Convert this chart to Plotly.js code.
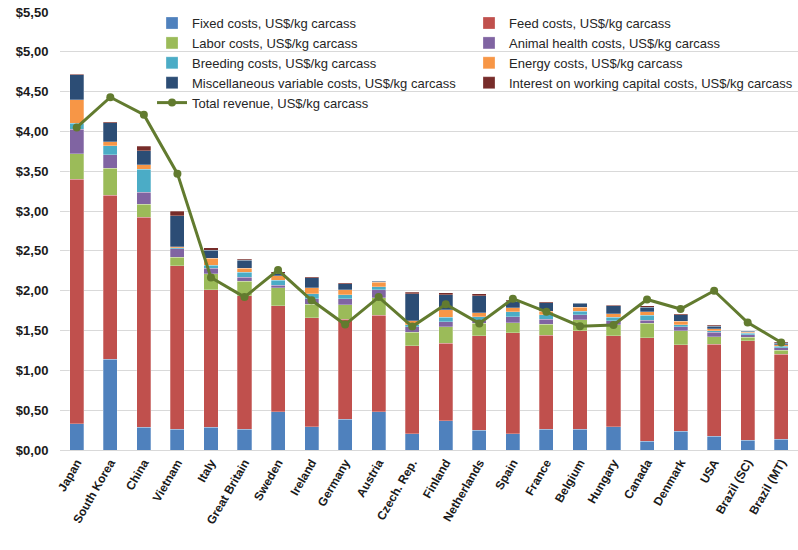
<!DOCTYPE html>
<html>
<head>
<meta charset="utf-8">
<script src="https://cdn.plot.ly/plotly-3.0.1.min.js"></script>
<style>
  html, body { margin: 0; padding: 0; background: #ffffff; }
  #chart { width: 798px; height: 550px; }
</style>
</head>
<body>
<div id="chart"></div>
<script>
// Pig production cost structure and revenue by country, US$/kg carcass
const countries = ['Japan', 'South Korea', 'China', 'Vietnam', 'Italy', 'Great Britain', 'Sweden',
  'Ireland', 'Germany', 'Austria', 'Czech. Rep.', 'Finland', 'Netherlands', 'Spain', 'France',
  'Belgium', 'Hungary', 'Canada', 'Denmark', 'USA', 'Brazil (SC)', 'Brazil (MT)'];

const fixedCosts    = [0.33, 1.14, 0.285, 0.26, 0.285, 0.26, 0.48, 0.29, 0.385, 0.48, 0.205, 0.37, 0.25, 0.205, 0.26, 0.26, 0.29, 0.11, 0.235, 0.17, 0.12, 0.135];
const feedCosts     = [3.07, 2.06, 2.64, 2.055, 1.73, 1.68, 1.33, 1.37, 1.26, 1.21, 1.105, 0.97, 1.185, 1.27, 1.18, 1.235, 1.145, 1.30, 1.085, 1.16, 1.25, 1.065];
const laborCosts    = [0.32, 0.34, 0.16, 0.105, 0.20, 0.18, 0.225, 0.17, 0.18, 0.22, 0.17, 0.21, 0.155, 0.12, 0.14, 0.14, 0.14, 0.18, 0.175, 0.09, 0.045, 0.05];
const healthCosts   = [0.31, 0.17, 0.15, 0.11, 0.07, 0.05, 0.035, 0.07, 0.075, 0.10, 0.07, 0.06, 0.035, 0.08, 0.06, 0.065, 0.05, 0.04, 0.055, 0.06, 0.035, 0.035];
const breedingCosts = [0.07, 0.11, 0.29, 0.01, 0.035, 0.06, 0.06, 0.06, 0.05, 0.04, 0.025, 0.06, 0.05, 0.06, 0.06, 0.04, 0.045, 0.06, 0.025, 0.02, 0.015, 0.02];
const energyCosts   = [0.30, 0.05, 0.06, 0.01, 0.09, 0.05, 0.06, 0.08, 0.06, 0.055, 0.05, 0.09, 0.05, 0.05, 0.04, 0.05, 0.04, 0.045, 0.04, 0.025, 0.015, 0.015];
const miscCosts     = [0.31, 0.24, 0.17, 0.39, 0.10, 0.10, 0.03, 0.12, 0.075, 0.015, 0.34, 0.19, 0.215, 0.08, 0.11, 0.05, 0.10, 0.055, 0.085, 0.03, 0.01, 0.02];
const interestCosts = [0.01, 0.01, 0.06, 0.06, 0.03, 0.015, 0.02, 0.015, 0.015, 0.005, 0.015, 0.025, 0.02, 0.013, 0.01, 0.01, 0.01, 0.02, 0.01, 0.01, 0.01, 0.01];
const totalRevenue  = [4.05, 4.43, 4.21, 3.47, 2.165, 1.92, 2.26, 1.88, 1.575, 1.92, 1.55, 1.83, 1.59, 1.90, 1.735, 1.555, 1.57, 1.89, 1.77, 2.00, 1.60, 1.35];

// Stack order bottom to top; the legend splits them over two columns
const costSeries = [
  { name: 'Fixed costs, US$/kg carcass',                       y: fixedCosts,    color: '#4F81BD', legend: 'legend' },
  { name: 'Feed costs, US$/kg carcass',                        y: feedCosts,     color: '#C0504D', legend: 'legend2' },
  { name: 'Labor costs, US$/kg carcass',                       y: laborCosts,    color: '#9BBB59', legend: 'legend' },
  { name: 'Animal health costs, US$/kg carcass',               y: healthCosts,   color: '#8064A2', legend: 'legend2' },
  { name: 'Breeding costs, US$/kg carcass',                    y: breedingCosts, color: '#4BACC6', legend: 'legend' },
  { name: 'Energy costs, US$/kg carcass',                      y: energyCosts,   color: '#F79646', legend: 'legend2' },
  { name: 'Miscellaneous variable costs, US$/kg carcass',      y: miscCosts,     color: '#2C4D75', legend: 'legend' },
  { name: 'Interest on working capital costs, US$/kg carcass', y: interestCosts, color: '#772C2A', legend: 'legend2' }
];

const traces = costSeries.map(s => ({
  type: 'bar',
  name: s.name,
  legend: s.legend,
  x: countries,
  y: s.y,
  marker: { color: s.color, line: { color: 'rgba(255,255,255,0.45)', width: 0.6 } },
  hoverinfo: 'skip'
}));

traces.push({
  type: 'scatter',
  mode: 'lines+markers',
  name: 'Total revenue, US$/kg carcass',
  legend: 'legend',
  x: countries,
  y: totalRevenue,
  line: { color: '#627B2F', width: 3 },
  marker: { color: '#627B2F', size: 8 },
  hoverinfo: 'skip'
});

const legendFont = { family: 'Liberation Sans, Arial, sans-serif', size: 13, color: '#262626' };
const legendBase = {
  orientation: 'v',
  traceorder: 'normal',
  yanchor: 'top',
  y: 1.009,
  bgcolor: 'rgba(0,0,0,0)',
  borderwidth: 0,
  itemwidth: 30,
  font: legendFont
};

const layout = {
  width: 798,
  height: 550,
  margin: { l: 60, r: 0, t: 12, b: 100 },
  paper_bgcolor: '#ffffff',
  plot_bgcolor: '#ffffff',
  barmode: 'stack',
  bargap: 0.58,
  separators: ', ',
  font: { family: 'Liberation Sans, Arial, sans-serif', size: 12, color: '#262626' },
  xaxis: {
    type: 'category',
    range: [-0.5, countries.length - 0.5],
    tickangle: -60,
    tickfont: { family: 'Liberation Sans, Arial, sans-serif', size: 12, color: '#1a1a1a', weight: 'bold' },
    showgrid: false,
    showline: true,
    linecolor: '#d9d9d9',
    linewidth: 1,
    ticks: '',
    fixedrange: true
  },
  yaxis: {
    range: [0, 5.5],
    dtick: 0.5,
    tickprefix: '$',
    tickformat: '.2f',
    tickfont: { family: 'Liberation Sans, Arial, sans-serif', size: 13, color: '#1a1a1a', weight: 'bold' },
    showgrid: true,
    gridcolor: '#d9d9d9',
    gridwidth: 1,
    zeroline: false,
    ticks: 'outside',
    ticklen: 8,
    tickcolor: 'rgba(0,0,0,0)',
    fixedrange: true
  },
  showlegend: true,
  legend: Object.assign({}, legendBase, { x: 0.1247, xanchor: 'left' }),
  legend2: Object.assign({}, legendBase, { x: 1, xanchor: 'right' })
};

Plotly.newPlot('chart', traces, layout, { displayModeBar: false, staticPlot: true });
</script>
</body>
</html>
